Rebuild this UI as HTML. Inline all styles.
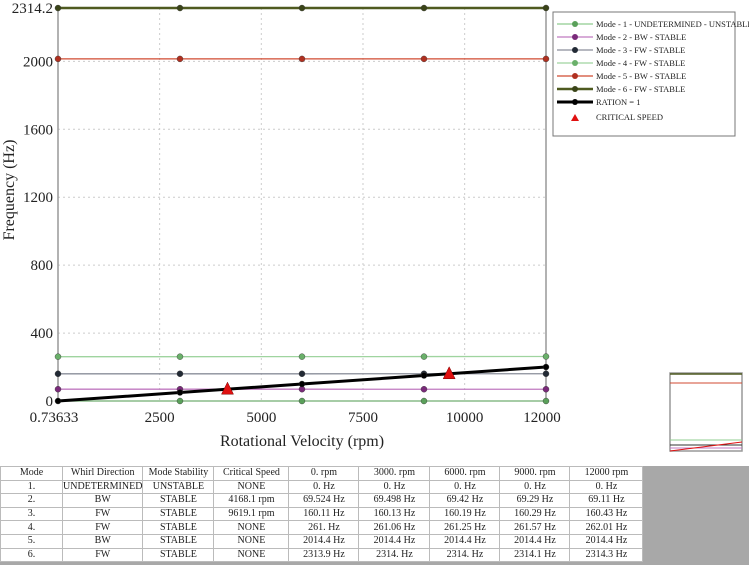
<!DOCTYPE html>
<html><head><meta charset="utf-8"><style>
body{margin:0;width:749px;height:565px;background:#fff;overflow:hidden;font-family:"Liberation Serif",serif;position:relative}
svg{position:absolute;left:0;top:0}
table{position:absolute;left:0;top:466px;border-collapse:collapse;font-size:10px;table-layout:fixed;background:#fff}
td{border:1px solid #bbb;text-align:center;height:12.6px;line-height:12px;padding:0;white-space:nowrap;color:#222}
#gray{position:absolute;left:643px;top:466px;width:106px;height:99px;background:#a8a8a8}
#bot{position:absolute;left:0;top:562px;width:749px;height:3px;background:#a8a8a8}
</style></head><body>
<svg id="chart" width="749" height="565"></svg>
<div id="gray"></div>
<div id="bot"></div>
<table>
<colgroup><col style="width:62px"><col style="width:80px"><col style="width:71px"><col style="width:75px"><col style="width:70px"><col style="width:71px"><col style="width:70px"><col style="width:70px"><col style="width:73px"></colgroup>
<tr><td>Mode</td><td>Whirl Direction</td><td>Mode Stability</td><td>Critical Speed</td><td>0. rpm</td><td>3000. rpm</td><td>6000. rpm</td><td>9000. rpm</td><td>12000 rpm</td></tr>
<tr><td>1.</td><td>UNDETERMINED</td><td>UNSTABLE</td><td>NONE</td><td>0. Hz</td><td>0. Hz</td><td>0. Hz</td><td>0. Hz</td><td>0. Hz</td></tr>
<tr><td>2.</td><td>BW</td><td>STABLE</td><td>4168.1 rpm</td><td>69.524 Hz</td><td>69.498 Hz</td><td>69.42 Hz</td><td>69.29 Hz</td><td>69.11 Hz</td></tr>
<tr><td>3.</td><td>FW</td><td>STABLE</td><td>9619.1 rpm</td><td>160.11 Hz</td><td>160.13 Hz</td><td>160.19 Hz</td><td>160.29 Hz</td><td>160.43 Hz</td></tr>
<tr><td>4.</td><td>FW</td><td>STABLE</td><td>NONE</td><td>261. Hz</td><td>261.06 Hz</td><td>261.25 Hz</td><td>261.57 Hz</td><td>262.01 Hz</td></tr>
<tr><td>5.</td><td>BW</td><td>STABLE</td><td>NONE</td><td>2014.4 Hz</td><td>2014.4 Hz</td><td>2014.4 Hz</td><td>2014.4 Hz</td><td>2014.4 Hz</td></tr>
<tr><td>6.</td><td>FW</td><td>STABLE</td><td>NONE</td><td>2313.9 Hz</td><td>2314. Hz</td><td>2314. Hz</td><td>2314.1 Hz</td><td>2314.3 Hz</td></tr>
</table>
<script>
const rpms=[0.73633,3000,6000,9000,12000];
const modeNames=["Mode - 1 - UNDETERMINED - UNSTABLE","Mode - 2 - BW - STABLE","Mode - 3 - FW - STABLE","Mode - 4 - FW - STABLE","Mode - 5 - BW - STABLE","Mode - 6 - FW - STABLE"];
const mode1=[0,0,0,0,0];
const mode2=[69.524,69.498,69.42,69.29,69.11];
const mode3=[160.11,160.13,160.19,160.29,160.43];
const mode4=[261,261.06,261.25,261.57,262.01];
const mode5=[2014.4,2014.4,2014.4,2014.4,2014.4];
const mode6=[2313.9,2314,2314,2314.1,2314.3];
const ratio=[0.0123,50,100,150,200];
const critRpm=[4168.1,9619.1];
const critHz=[69.47,160.32];
const xTicks=[0.73633,2500,5000,7500,10000,12000];
const xTickLabels=["0.73633","2500","5000","7500","10000","12000"];
const yTicks=[0,400,800,1200,1600,2000,2314.2];
const yTickLabels=["0","400","800","1200","1600","2000","2314.2"];
const colors=["#8fcc8f","#c07ac0","#8a8e9a","#9fd49f","#d04a30","#4f5a20"];
const dots=["#5aa05a","#7a2a7a","#222a35","#6ab06a","#b03020","#3a4418"];
const svg=document.getElementById('chart');const NS='http://www.w3.org/2000/svg';
const X0=58,X1=546,Y0=401,Y1=8,XMAX=12000,YMAX=2314.2;
const sx=v=>X0+(v-0.73633)/(XMAX-0.73633)*(X1-X0);
const sy=v=>Y0-v/YMAX*(Y0-Y1);
function mk(t,a,p){const e=document.createElementNS(NS,t);for(const k in a)e.setAttribute(k,a[k]);(p||svg).appendChild(e);return e;}
xTicks.slice(1,-1).forEach(v=>{const l=mk('line',{x1:sx(v),x2:sx(v),y1:Y1,y2:Y0,stroke:'#ccc','stroke-dasharray':'2,3'});

});
yTicks.slice(1,-1).forEach(v=>{const l=mk('line',{x1:X0,x2:X1,y1:sy(v),y2:sy(v),stroke:'#ccc','stroke-dasharray':'2,3'});

});
const fr=mk('rect',{x:X0,y:Y1,width:X1-X0,height:Y0-Y1,fill:'none',stroke:'#999','stroke-width':1.5});


xTicks.forEach((v,i)=>{const t=mk('text',{x:sx(v)+(i==0?-4:i==5?-4:0),y:Y0+21,'font-size':15,'text-anchor':'middle',fill:'#222'});t.textContent=xTickLabels[i];

});
yTicks.forEach((v,i)=>{const t=mk('text',{x:X0-5,y:sy(v)+5,'font-size':15,'text-anchor':'end',fill:'#222'});t.textContent=yTickLabels[i];

});
const xt=mk('text',{x:302,y:446,'font-size':16,'text-anchor':'middle',fill:'#222'});xt.textContent='Rotational Velocity (rpm)';


const yt=mk('text',{x:14,y:190,'font-size':16,'text-anchor':'middle',fill:'#222',transform:'rotate(-90 14 190)'});yt.textContent='Frequency (Hz)';


const series=[mode1,mode2,mode3,mode4,mode5,mode6];
function drawSeries(vals,col,dot,w,start){
 const g=mk('g',{});
 mk('polyline',{points:vals.map((v,i)=>sx(rpms[i])+','+sy(v)).join(' '),fill:'none',stroke:col,'stroke-width':w},g);
 vals.forEach((v,i)=>{if(i>=start)mk('circle',{cx:sx(rpms[i]),cy:sy(v),r:3,fill:dot,stroke:'#333','stroke-width':0.4},g);});
 return g;}
series.forEach((s,k)=>{const g=drawSeries(s,colors[k],dots[k],k==5?2.5:1.3,k==0?1:0);

});
const rg=drawSeries(ratio,'#000','#000',3,0);


critRpm.forEach((r,i)=>{const x=sx(r),y=sy(critHz[i]);const p=mk('polygon',{points:`${x-6},${y+5} ${x+6},${y+5} ${x},${y-7}`,fill:'#e01010',stroke:'#700','stroke-width':0.5});

});
const lg=mk('g',{});
mk('rect',{x:553,y:12,width:182,height:124,fill:'#fff',stroke:'#777','stroke-width':1},lg);
const legCols=colors.concat(['#000']);const legDots=dots.concat(['#000']);const legNames=modeNames.concat(['RATION = 1']);
legNames.forEach((n,i)=>{const y=24+i*13;const e=mk('g',{},lg);


mk('line',{x1:557,x2:593,y1:y,y2:y,stroke:legCols[i],'stroke-width':i==6?3:(i==5?2.5:1.3)},e);
mk('circle',{cx:575,cy:y,r:3,fill:legDots[i]},e);
const t=mk('text',{x:596,y:y+3,'font-size':8.5,fill:'#222'},e);t.textContent=n;});
const ce=mk('g',{},lg);
mk('polygon',{points:'571,121 579,121 575,114',fill:'#e01010'},ce);
const ct=mk('text',{x:596,y:120,'font-size':8.5,fill:'#222'},ce);ct.textContent='CRITICAL SPEED';
const th=mk('g',{});
mk('rect',{x:670,y:373,width:72,height:78,fill:'#fff',stroke:'#999','stroke-width':1.5},th);
mk('line',{x1:670,x2:742,y1:374,y2:374,stroke:'#4f5a20','stroke-width':1.5},th);
mk('line',{x1:670,x2:742,y1:383,y2:383,stroke:'#d04a30','stroke-width':1},th);
mk('line',{x1:670,x2:742,y1:440,y2:440,stroke:'#8fcc8f','stroke-width':1},th);
mk('line',{x1:670,x2:742,y1:445,y2:445,stroke:'#333','stroke-width':1},th);
mk('line',{x1:670,x2:742,y1:448,y2:448,stroke:'#c07ac0','stroke-width':1},th);
mk('line',{x1:670,x2:742,y1:451,y2:442,stroke:'#e01010','stroke-width':1},th);
</script>
</body></html>
